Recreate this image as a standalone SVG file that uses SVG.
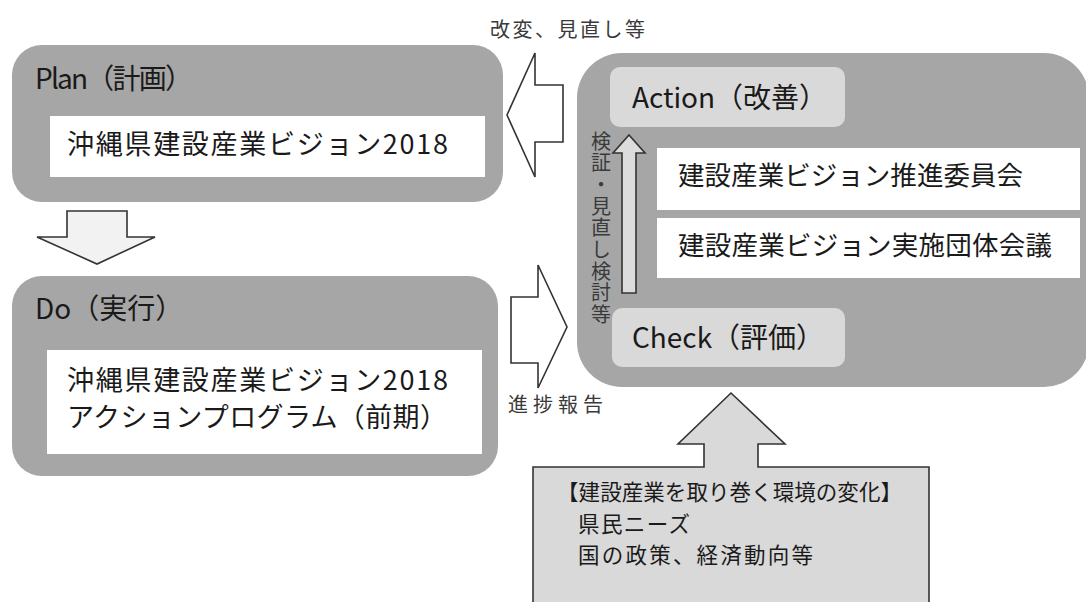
<svg xmlns="http://www.w3.org/2000/svg" width="1086" height="602" viewBox="0 0 1086 602">
<style>
text{font-family:"Noto Sans CJK JP","Noto Sans",sans-serif;fill:#1a1a1a}
.outer{fill:#a6a6a6}
.light{fill:#d9d9d9}
.white{fill:#ffffff}
.title{font-size:28px}
.body{font-size:27px}
.body2{font-size:26.5px}
.small{font-size:20px;fill:#3a3a3a}
.vert{font-size:20px;fill:#3a3a3a;writing-mode:vertical-rl;letter-spacing:1.7px}
.env{font-size:21.5px}
.arrow{stroke:#333;stroke-width:1.6;stroke-linejoin:miter}
</style>
<rect width="1086" height="602" fill="#ffffff"/>
<g id="plan">
<rect class="outer" x="12" y="45" width="491" height="157" rx="30"/>
<text class="title" x="35" y="89" textLength="158" lengthAdjust="spacing">Plan（計画）</text>
<rect class="white" x="50" y="116" width="435" height="61"/>
<text class="body" x="67" y="154" textLength="381" lengthAdjust="spacing">沖縄県建設産業ビジョン2018</text>
</g>
<g id="do">
<rect class="outer" x="12" y="276" width="486" height="200" rx="30"/>
<text class="title" x="35" y="319">Do（実行）</text>
<rect class="white" x="47" y="350" width="435" height="104"/>
<text class="body" x="67" y="390" textLength="381" lengthAdjust="spacing">沖縄県建設産業ビジョン2018</text>
<text class="body" x="67" y="427" textLength="380" lengthAdjust="spacing">アクションプログラム（前期）</text>
</g>
<g id="cycle">
<rect class="outer" x="577" y="53" width="512" height="334" rx="45"/>
<g id="action">
<rect class="light" x="610" y="67" width="235" height="60" rx="10"/>
<text class="title" x="632" y="108" textLength="195" lengthAdjust="spacing">Action（改善）</text>
</g>
<g id="committee">
<rect class="white" x="657" y="148" width="423" height="62"/>
<text class="body2" x="678" y="185" textLength="345" lengthAdjust="spacing">建設産業ビジョン推進委員会</text>
</g>
<g id="council">
<rect class="white" x="657" y="218" width="423" height="60"/>
<text class="body2" x="678" y="255" textLength="374" lengthAdjust="spacing">建設産業ビジョン実施団体会議</text>
</g>
<g id="check">
<rect class="light" x="612" y="308" width="233" height="59" rx="10"/>
<text class="title" x="632" y="348">Check（評価）</text>
</g>
</g>
<g id="environment">
<polygon class="arrow" fill="#d9d9d9" points="533,467 704,467 704,444 678,444 731,393 785,444 758,444 758,467 929,467 929,606 533,606"/>
<text class="env" x="557" y="500" textLength="345" lengthAdjust="spacing">【建設産業を取り巻く環境の変化】</text>
<text class="env" x="578" y="532" textLength="112" lengthAdjust="spacing">県民ニーズ</text>
<text class="env" x="578" y="563" textLength="235" lengthAdjust="spacing">国の政策、経済動向等</text>
</g>
<g id="connectors">
<polygon class="arrow" fill="#f2f2f2" points="67,211 127,211 127,237 155,237 97,264 37,237 67,237"/>
<polygon class="arrow" fill="#ffffff" points="563,85 535,85 535,53 507,115 535,177 535,142 563,142"/>
<polygon class="arrow" fill="#ffffff" points="511,297 538,297 538,265 567,327 538,388 538,363 511,363"/>
<polygon class="arrow" fill="#dcdcdc" points="622,293 622,153 613,153 629,135 645,153 636,153 636,293"/>
<text class="small" x="490" y="37" textLength="155" lengthAdjust="spacing">改変、見直し等</text>
<text class="small" x="508" y="412" textLength="95" lengthAdjust="spacing">進捗報告</text>
<text class="vert" x="601" y="131">検証・見直し検討等</text>
</g>
</svg>
